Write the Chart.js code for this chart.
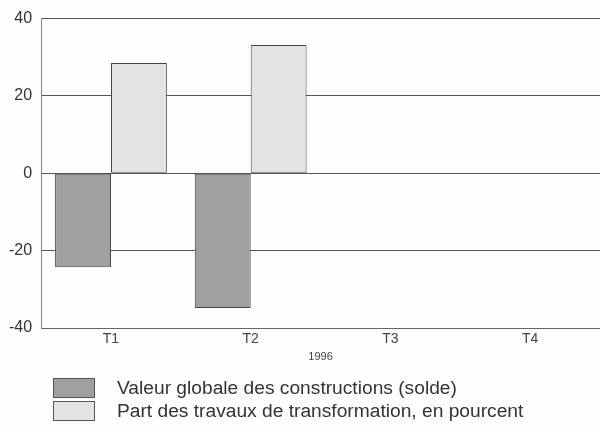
<!DOCTYPE html>
<html>
<head>
    <meta charset="utf-8">
    <title>Construction 1996</title>
    <script src="https://cdn.jsdelivr.net/npm/chart.js"></script>
    <style>
        body { margin: 0; background: #fdfdfc; font-family: "Liberation Sans", Arial, sans-serif; }
        .wrap { position: relative; width: 600px; height: 432px; }
        #legend { position: absolute; left: 53px; top: 376px; }
        .item { height: 23px; display: flex; align-items: center; color: #333; font-size: 19.2px; }
        .box { width: 42px; height: 20px; border: 1px solid #555; margin-right: 22px; box-sizing: border-box; }
    </style>
</head>
<body>
    <div class="wrap">
        <canvas id="chart" width="600" height="432"></canvas>
        <div id="legend"></div>
    </div>
    <script>
        // donnees
        var quarters = ['T1', 'T2', 'T3', 'T4'];
        var yearLabel = '1996';
        var valeurGlobale = [-24.3, -34.8, null, null];
        var partTransformation = [28.5, 33.2, null, null];
        var yTicks = [-40, -20, 0, 20, 40];

        var series = [
            { label: 'Valeur globale des constructions (solde)', data: valeurGlobale, color: '#a0a0a0' },
            { label: 'Part des travaux de transformation, en pourcent', data: partTransformation, color: '#e3e3e3' }
        ];

        var ctx = document.getElementById('chart').getContext('2d');
        var chart = new Chart(ctx, {
            type: 'bar',
            data: {
                labels: quarters,
                datasets: series.map(function(s) {
                    return {
                        label: s.label,
                        data: s.data,
                        backgroundColor: s.color,
                        borderColor: '#454545',
                        borderWidth: 1,
                        borderSkipped: false,
                        barPercentage: 1,
                        categoryPercentage: 0.8
                    };
                })
            },
            options: {
                responsive: false,
                animation: false,
                layout: { padding: { top: 10, right: 0, left: 0, bottom: 68 } },
                plugins: { legend: { display: false }, tooltip: { enabled: false } },
                scales: {
                    x: {
                        grid: { display: false, drawTicks: false },
                        border: { color: '#666', width: 1 },
                        ticks: { color: '#444', font: { family: 'Liberation Sans', size: 14 }, padding: 3 },
                        title: { display: true, text: yearLabel, color: '#444', font: { family: 'Liberation Sans', size: 11 }, padding: { top: 0, bottom: 0 } }
                    },
                    y: {
                        min: yTicks[0],
                        max: yTicks[yTicks.length - 1],
                        afterBuildTicks: function(axis) {
                            axis.ticks = yTicks.map(function(v) { return { value: v }; });
                        },
                        grid: { color: '#555', lineWidth: 1, drawTicks: false },
                        border: { color: '#888', width: 1 },
                        ticks: { color: '#333', font: { family: 'Liberation Sans', size: 16 }, padding: 9 }
                    }
                }
            }
        });

        var legend = document.getElementById('legend');
        series.forEach(function(s) {
            var row = document.createElement('div');
            row.className = 'item';
            var box = document.createElement('span');
            box.className = 'box';
            box.style.background = s.color;
            var txt = document.createElement('span');
            txt.textContent = s.label;
            row.appendChild(box);
            row.appendChild(txt);
            legend.appendChild(row);
        });
    </script>
</body>
</html>
